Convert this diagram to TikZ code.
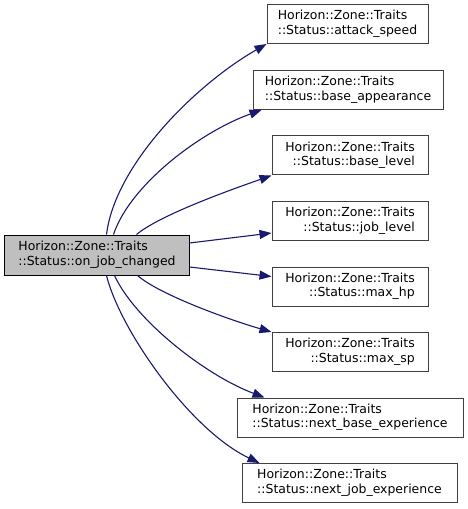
\documentclass[tikz,border=0pt]{standalone}
\usepackage{fontspec}
\setmainfont{DejaVu Sans}
\usetikzlibrary{arrows.meta,calc}
\definecolor{edgeblue}{HTML}{191970}
\definecolor{rootfill}{HTML}{BFBFBF}
\definecolor{boxline}{HTML}{404040}
\newcommand\fnlabel[1]{\begin{tabular}{@{}l@{}}Horizon::Zone::Traits\\\hfill#1\hfill\end{tabular}}
\tikzset{
  fnbox/.style={draw=boxline, fill=white, line width=1bp, minimum height=39bp,
    inner sep=0pt, font=\fontsize{12.5}{15}\selectfont, text=black},
  rootbox/.style={fnbox, fill=rootfill, draw=black, minimum height=40bp},
  call/.style={draw=edgeblue, line width=1.1bp, -{Triangle[length=12bp,width=9bp]}}
}
\begin{document}
\begin{tikzpicture}[x=1bp,y=-1bp]
\useasboundingbox (0,0) rectangle (468,509);
\node[rootbox, minimum width=184bp] (L) at (97,255) {\fnlabel{::Status::on\_job\_changed}};
\node[fnbox, minimum width=161bp] (A1) at (347.5,24) {\fnlabel{::Status::attack\_speed}};
\node[fnbox, minimum width=190bp] (A2) at (348,90) {\fnlabel{::Status::base\_appearance}};
\node[fnbox, minimum width=156bp] (A3) at (350,155.5) {\fnlabel{::Status::base\_level}};
\node[fnbox, minimum width=156bp] (A4) at (350,221) {\fnlabel{::Status::job\_level}};
\node[fnbox, minimum width=156bp] (A5) at (350,286.5) {\fnlabel{::Status::max\_hp}};
\node[fnbox, minimum width=156bp] (A6) at (350,352) {\fnlabel{::Status::max\_sp}};
\node[fnbox, minimum width=226bp] (A7) at (350,417.5) {\fnlabel{::Status::next\_base\_experience}};
\node[fnbox, minimum width=215bp] (A8) at (349.5,483) {\fnlabel{::Status::next\_job\_experience}};

\draw[call] ($(L.north west)+(102,0)$) .. controls (115,165) and (195,85) .. (A1.south west);
\draw[call] ($(L.north west)+(109,0)$) .. controls (130,185) and (200,132) .. ($(A2.south west)+(9,0)$);
\draw[call] ($(L.north west)+(132,0)$) .. controls (160,215) and (230,190) .. (A3.south west);
\draw[call] ($(L.east)+(0,-12)$) -- ($(A4.west)+(0,12)$);
\draw[call] ($(L.east)+(0,12)$) -- ($(A5.west)+(0,-10)$);
\draw[call] ($(L.south west)+(133,0)$) .. controls (160,295) and (230,320) .. (A6.north west);
\draw[call] ($(L.south west)+(110,0)$) .. controls (135,320) and (205,375) .. ($(A7.north west)+(28,0)$);
\draw[call] ($(L.south west)+(102,0)$) .. controls (120,330) and (190,430) .. ($(A8.north west)+(18,0)$);
\end{tikzpicture}
\end{document}
